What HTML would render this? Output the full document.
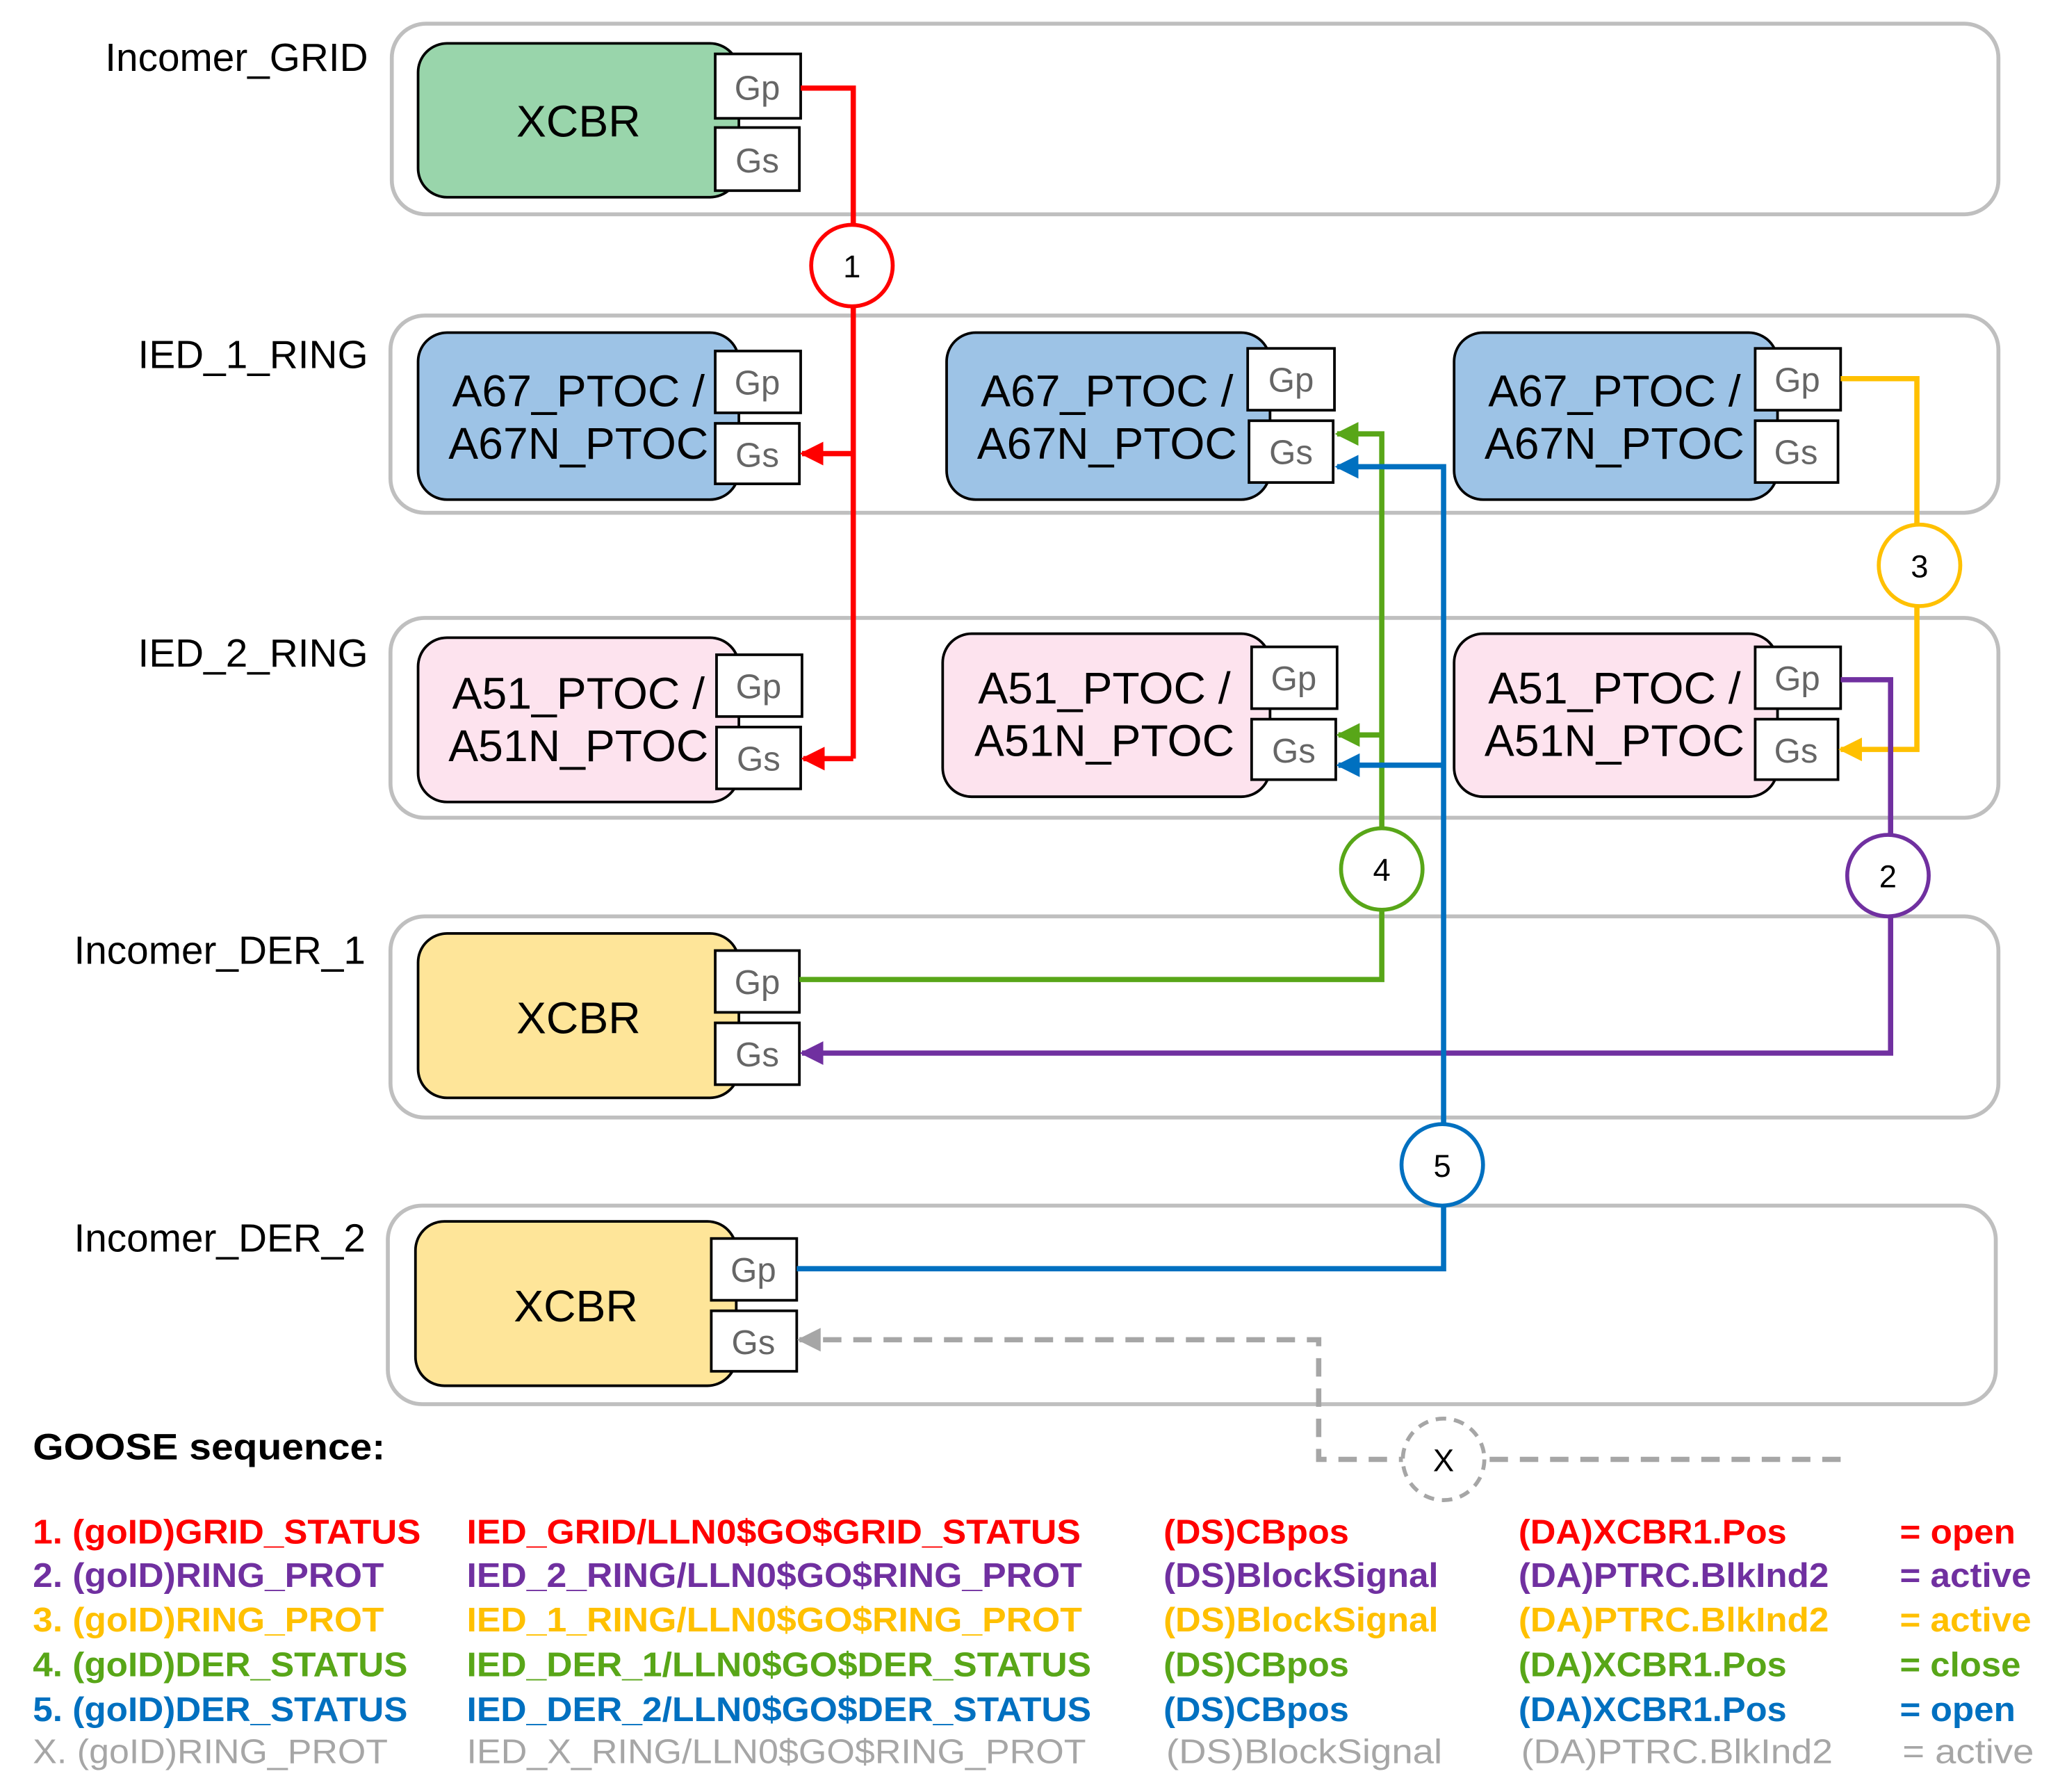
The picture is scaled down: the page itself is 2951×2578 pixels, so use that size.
<!DOCTYPE html>
<html><head><meta charset="utf-8"><style>
html,body{margin:0;padding:0;background:#fff;}
svg{display:block;}
text{font-family:"Liberation Sans",Arial,sans-serif;}
</style></head><body>
<svg width="2951" height="2578" viewBox="0 0 1560 1363" preserveAspectRatio="none" xmlns="http://www.w3.org/2000/svg">
<defs>
<marker id="ar" viewBox="0 0 10 10" refX="9" refY="5" markerWidth="4.5" markerHeight="4.5" orient="auto-start-reverse" markerUnits="strokeWidth"><path d="M0,0 L10,5 L0,10 z" fill="context-stroke"/></marker>
</defs>
<g fill="#fff" stroke="#bfbfbf" stroke-width="3">
<rect x="298" y="18" width="1222" height="145" rx="26"/>
<rect x="297" y="240" width="1223" height="150" rx="26"/>
<rect x="297" y="470" width="1223" height="152" rx="26"/>
<rect x="297" y="697" width="1223" height="153" rx="26"/>
<rect x="295" y="917" width="1223" height="151" rx="26"/>
</g>
<g font-size="30" fill="#000" text-anchor="end">
<text x="280" y="54">Incomer_GRID</text>
<text x="280" y="280">IED_1_RING</text>
<text x="280" y="507">IED_2_RING</text>
<text x="278" y="733">Incomer_DER_1</text>
<text x="278" y="952">Incomer_DER_2</text>
</g>
<g stroke="#000" stroke-width="2">
<rect x="318" y="33" width="244" height="117" rx="22" fill="#99d5ab"/>
<rect x="318" y="253" width="244" height="127" rx="22" fill="#9dc3e6"/>
<rect x="720" y="253" width="246" height="127" rx="22" fill="#9dc3e6"/>
<rect x="1106" y="253" width="246" height="127" rx="22" fill="#9dc3e6"/>
<rect x="318" y="485" width="244" height="125" rx="22" fill="#fde3ee"/>
<rect x="717" y="482" width="249" height="124" rx="22" fill="#fde3ee"/>
<rect x="1106" y="482" width="246" height="124" rx="22" fill="#fde3ee"/>
<rect x="318" y="710" width="244" height="125" rx="22" fill="#fee599"/>
<rect x="316" y="929" width="244" height="125" rx="22" fill="#fee599"/>
</g>
<g font-size="34" fill="#000" text-anchor="middle">
<text x="440" y="104">XCBR</text>
<text x="440" y="309">A67_PTOC /</text><text x="440" y="349">A67N_PTOC</text>
<text x="842" y="309">A67_PTOC /</text><text x="842" y="349">A67N_PTOC</text>
<text x="1228" y="309">A67_PTOC /</text><text x="1228" y="349">A67N_PTOC</text>
<text x="440" y="539">A51_PTOC /</text><text x="440" y="579">A51N_PTOC</text>
<text x="840" y="535">A51_PTOC /</text><text x="840" y="575">A51N_PTOC</text>
<text x="1228" y="535">A51_PTOC /</text><text x="1228" y="575">A51N_PTOC</text>
<text x="440" y="786">XCBR</text>
<text x="438" y="1005">XCBR</text>
</g>
<g stroke="#000" stroke-width="2" fill="#fff">
<rect x="544" y="41" width="65" height="49"/><rect x="544" y="97" width="64" height="48"/>
<rect x="544" y="267" width="65" height="47"/><rect x="544" y="322" width="64" height="46"/>
<rect x="949" y="265" width="66" height="47"/><rect x="950" y="320" width="64" height="47"/>
<rect x="1335" y="265" width="65" height="47"/><rect x="1335" y="320" width="63" height="47"/>
<rect x="545" y="498" width="65" height="47"/><rect x="545" y="553" width="64" height="47"/>
<rect x="952" y="492" width="65" height="47"/><rect x="952" y="547" width="64" height="46"/>
<rect x="1335" y="492" width="65" height="47"/><rect x="1335" y="547" width="63" height="46"/>
<rect x="544" y="723" width="64" height="47"/><rect x="544" y="778" width="64" height="47"/>
<rect x="541" y="942" width="65" height="47"/><rect x="541" y="997" width="65" height="46"/>
</g>
<g font-size="26" fill="#666" text-anchor="middle">
<text x="576" y="76">Gp</text><text x="576" y="131">Gs</text>
<text x="576" y="300">Gp</text><text x="576" y="355">Gs</text>
<text x="982" y="298">Gp</text><text x="982" y="353">Gs</text>
<text x="1367" y="298">Gp</text><text x="1366" y="353">Gs</text>
<text x="577" y="531">Gp</text><text x="577" y="586">Gs</text>
<text x="984" y="525">Gp</text><text x="984" y="580">Gs</text>
<text x="1367" y="525">Gp</text><text x="1366" y="580">Gs</text>
<text x="576" y="756">Gp</text><text x="576" y="811">Gs</text>
<text x="573" y="975">Gp</text><text x="573" y="1030">Gs</text>
</g>
<g fill="none" stroke-width="4" stroke-linejoin="miter">
<path d="M609,67 H649 V577" stroke="#ff0000"/>
<path d="M649,345 H610" stroke="#ff0000" marker-end="url(#ar)"/>
<path d="M649,577 H611" stroke="#ff0000" marker-end="url(#ar)"/>
<path d="M1400,288 H1458 V570 H1400" stroke="#ffc000" marker-end="url(#ar)"/>
<path d="M1400,517 H1438 V801 H610" stroke="#7030a0" marker-end="url(#ar)"/>
<path d="M608,745 H1051 V330 H1017" stroke="#58a618" marker-end="url(#ar)"/>
<path d="M1051,559 H1018" stroke="#58a618" marker-end="url(#ar)"/>
<path d="M606,965 H1098 V355 H1017" stroke="#0070c0" marker-end="url(#ar)"/>
<path d="M1098,582 H1018" stroke="#0070c0" marker-end="url(#ar)"/>
<path d="M1400,1110 H1003 V1019 H608" stroke="#a6a6a6" stroke-dasharray="14,9" marker-end="url(#ar)"/>
</g>
<g fill="#fff" stroke-width="3">
<circle cx="648" cy="202" r="31" stroke="#ff0000"/>
<circle cx="1460" cy="430" r="31" stroke="#ffc000"/>
<circle cx="1436" cy="666" r="31" stroke="#7030a0"/>
<circle cx="1051" cy="661" r="31" stroke="#58a618"/>
<circle cx="1097" cy="886" r="31" stroke="#0070c0"/>
<circle cx="1098" cy="1110" r="31" stroke="#a6a6a6" stroke-dasharray="8,6"/>
</g>
<g font-size="24" fill="#000" text-anchor="middle">
<text x="648" y="211">1</text><text x="1460" y="439">3</text><text x="1436" y="675">2</text>
<text x="1051" y="670">4</text><text x="1097" y="895">5</text><text x="1098" y="1119">X</text>
</g>
<text x="25" y="1110" font-size="28" font-weight="bold" fill="#000" textLength="268" lengthAdjust="spacingAndGlyphs">GOOSE sequence:</text>
<g font-size="26" font-weight="bold">
<g fill="#ff0000">
<text x="25" y="1174" textLength="295" lengthAdjust="spacingAndGlyphs">1. (goID)GRID_STATUS</text>
<text x="355" y="1174" textLength="467" lengthAdjust="spacingAndGlyphs">IED_GRID/LLN0$GO$GRID_STATUS</text>
<text x="885" y="1174" textLength="141" lengthAdjust="spacingAndGlyphs">(DS)CBpos</text>
<text x="1155" y="1174" textLength="204" lengthAdjust="spacingAndGlyphs">(DA)XCBR1.Pos</text>
<text x="1445" y="1174" textLength="88" lengthAdjust="spacingAndGlyphs">= open</text></g>
<g fill="#7030a0">
<text x="25" y="1207" textLength="267" lengthAdjust="spacingAndGlyphs">2. (goID)RING_PROT</text>
<text x="355" y="1207" textLength="468" lengthAdjust="spacingAndGlyphs">IED_2_RING/LLN0$GO$RING_PROT</text>
<text x="885" y="1207" textLength="209" lengthAdjust="spacingAndGlyphs">(DS)BlockSignal</text>
<text x="1155" y="1207" textLength="236" lengthAdjust="spacingAndGlyphs">(DA)PTRC.BlkInd2</text>
<text x="1445" y="1207" textLength="100" lengthAdjust="spacingAndGlyphs">= active</text></g>
<g fill="#ffc000">
<text x="25" y="1241" textLength="267" lengthAdjust="spacingAndGlyphs">3. (goID)RING_PROT</text>
<text x="355" y="1241" textLength="468" lengthAdjust="spacingAndGlyphs">IED_1_RING/LLN0$GO$RING_PROT</text>
<text x="885" y="1241" textLength="209" lengthAdjust="spacingAndGlyphs">(DS)BlockSignal</text>
<text x="1155" y="1241" textLength="236" lengthAdjust="spacingAndGlyphs">(DA)PTRC.BlkInd2</text>
<text x="1445" y="1241" textLength="100" lengthAdjust="spacingAndGlyphs">= active</text></g>
<g fill="#58a618">
<text x="25" y="1275" textLength="285" lengthAdjust="spacingAndGlyphs">4. (goID)DER_STATUS</text>
<text x="355" y="1275" textLength="475" lengthAdjust="spacingAndGlyphs">IED_DER_1/LLN0$GO$DER_STATUS</text>
<text x="885" y="1275" textLength="141" lengthAdjust="spacingAndGlyphs">(DS)CBpos</text>
<text x="1155" y="1275" textLength="204" lengthAdjust="spacingAndGlyphs">(DA)XCBR1.Pos</text>
<text x="1445" y="1275" textLength="92" lengthAdjust="spacingAndGlyphs">= close</text></g>
<g fill="#0070c0">
<text x="25" y="1309" textLength="285" lengthAdjust="spacingAndGlyphs">5. (goID)DER_STATUS</text>
<text x="355" y="1309" textLength="475" lengthAdjust="spacingAndGlyphs">IED_DER_2/LLN0$GO$DER_STATUS</text>
<text x="885" y="1309" textLength="141" lengthAdjust="spacingAndGlyphs">(DS)CBpos</text>
<text x="1155" y="1309" textLength="204" lengthAdjust="spacingAndGlyphs">(DA)XCBR1.Pos</text>
<text x="1445" y="1309" textLength="88" lengthAdjust="spacingAndGlyphs">= open</text></g>
</g>
<g font-size="26" fill="#a6a6a6">
<text x="25" y="1341" textLength="270" lengthAdjust="spacingAndGlyphs">X. (goID)RING_PROT</text>
<text x="355" y="1341" textLength="471" lengthAdjust="spacingAndGlyphs">IED_X_RING/LLN0$GO$RING_PROT</text>
<text x="887" y="1341" textLength="210" lengthAdjust="spacingAndGlyphs">(DS)BlockSignal</text>
<text x="1157" y="1341" textLength="237" lengthAdjust="spacingAndGlyphs">(DA)PTRC.BlkInd2</text>
<text x="1447" y="1341" textLength="100" lengthAdjust="spacingAndGlyphs">= active</text>
</g>
</svg>
</body></html>
